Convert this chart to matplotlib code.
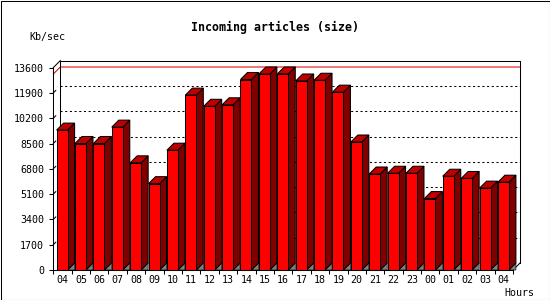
import matplotlib
matplotlib.use("Agg")
import matplotlib.pyplot as plt
from matplotlib.patches import Rectangle

# Datos
hours = ["04", "05", "06", "07", "08", "09", "10", "11", "12", "13", "14", "15",
         "16", "17", "18", "19", "20", "21", "22", "23", "00", "01", "02", "03", "04"]
kb_sec = [9400, 8500, 8500, 9600, 7200, 5800, 8050, 11750, 11000, 11100, 12800, 13170,
          13170, 12700, 12750, 11950, 8600, 6450, 6500, 6500, 4800, 6300, 6150, 5500, 5900]
y_ticks = [0, 1700, 3400, 5100, 6800, 8500, 10200, 11900, 13600]

COL_FRENTE = "#ff0000"
COL_LADO = "#800000"
COL_TAPA = "#c00000"
COL_PISO = "#808080"
LW = 0.75

plt.rcParams["font.family"] = "DejaVu Sans Mono"

W, H = 550, 300
fig = plt.figure(figsize=(W / 100, H / 100), dpi=100)
fig.patch.set_facecolor("white")
ax = fig.add_axes([53.3 / W, 30 / H, 459.7 / W, 202.4 / H])
n = len(hours)
ymax = y_ticks[-1]
ax.set_xlim(0, n)
ax.set_ylim(0, ymax)

# profundidad 3D en pixeles -> unidades de datos
pos = ax.get_position()
xu = pos.width * W / n
yu = pos.height * H / ymax
ddx = 7 / xu
ddy = 7 / yu
off = 3.3 / xu
bw = 11 / xu

# pared del fondo: grilla punteada
for v in y_ticks[1:-1]:
    ax.plot([ddx, n + ddx], [v + ddy, v + ddy], color="black", lw=LW,
            ls=(0, (2, 2.5)), clip_on=False, zorder=1)
    ax.plot([0, ddx * 0.35], [v, v + ddy * 0.35], color="black", lw=LW,
            clip_on=False, zorder=1)

# linea de maximo
vmax = max(kb_sec)
ax.plot([0, ddx, n + ddx], [vmax, vmax + ddy, vmax + ddy], color="#e00000",
        lw=LW, clip_on=False, zorder=1.5)

# marco
ax.plot([ddx, ddx, n + ddx, n + ddx], [ddy, ymax + ddy, ymax + ddy, ddy],
        color="black", lw=LW, clip_on=False, zorder=1.6)
ax.plot([0, ddx], [ymax, ymax + ddy], color="black", lw=LW, clip_on=False, zorder=1.6)
ax.plot([n, n + ddx], [0, ddy], color="black", lw=LW, clip_on=False, zorder=1.6)

# barras
xs = [i + off for i in range(n)]
ax.bar(xs, kb_sec, width=bw, align="edge", color=COL_FRENTE, edgecolor="black",
       linewidth=LW, zorder=4, clip_on=False)
for xl, v in zip(xs, kb_sec):
    xr = xl + bw
    ax.fill([xr, xr + ddx, xr + ddx], [0, ddy, 0], facecolor=COL_PISO,
            edgecolor="black", lw=LW * 0.6, zorder=2, clip_on=False)
    ax.fill([xr, xr, xr + ddx, xr + ddx], [0, v, v + ddy, ddy], facecolor=COL_LADO,
            edgecolor="black", lw=LW, zorder=3, clip_on=False)
    ax.fill([xl, xr, xr + ddx, xl + ddx], [v, v, v + ddy, v + ddy], facecolor=COL_TAPA,
            edgecolor="black", lw=LW, zorder=3, clip_on=False)

# ejes
for s in ["top", "right"]:
    ax.spines[s].set_visible(False)
for s in ["left", "bottom"]:
    ax.spines[s].set_linewidth(LW)
    ax.spines[s].set_zorder(5)
ax.set_facecolor("none")

ax.set_yticks(y_ticks)
ax.set_yticklabels([str(v) for v in y_ticks])
ax.tick_params(axis="y", length=2.9, width=LW, pad=3.6, labelsize=7.2)

ax.set_xticks(range(n + 1))
ax.set_xticklabels([])
ax.tick_params(axis="x", which="major", length=2.6, width=LW)
ax.set_xticks([i + 0.5 for i in range(n)], minor=True)
ax.set_xticklabels(hours, minor=True)
ax.tick_params(axis="x", which="minor", length=0, pad=3.6, labelsize=7.2)

fig.text(275 / W, 1 - 27 / H, "Incoming articles (size)", ha="center", va="center",
         fontsize=8.4, fontweight="bold")
fig.text(29.3 / W, 1 - 36.7 / H, "Kb/sec", ha="left", va="center", fontsize=7.2)
fig.text(504 / W, 1 - 292.7 / H, "Hours", ha="left", va="center", fontsize=7.2)

fig.add_artist(Rectangle((0.5 / W, 0.5 / H), (W - 1) / W, (H - 1) / H,
                         transform=fig.transFigure, fill=False, lw=LW, ec="black"))

fig.savefig("out.png", dpi=100, facecolor="white")
plt.close(fig)
